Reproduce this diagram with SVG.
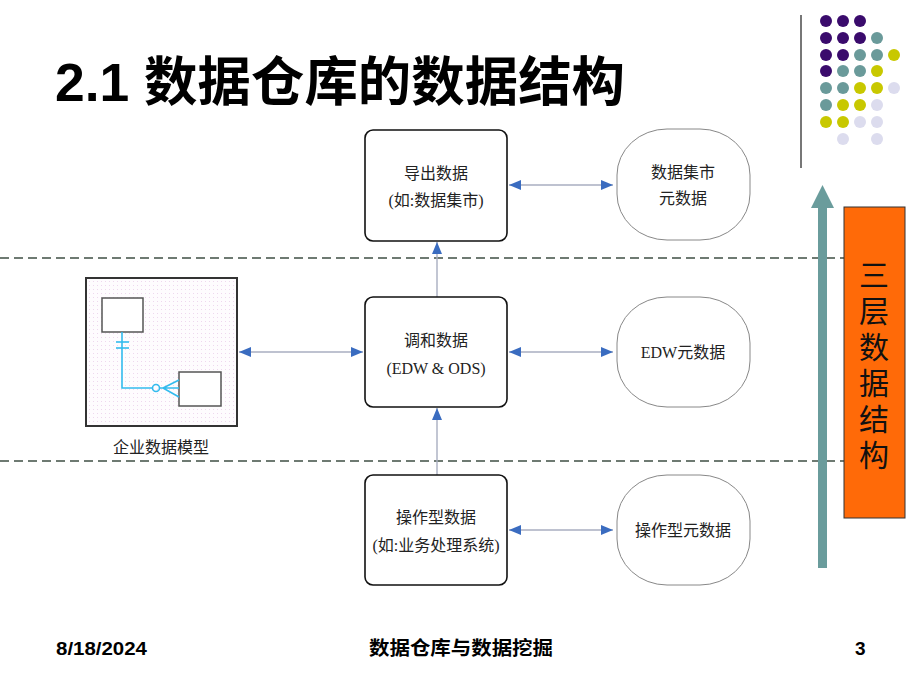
<svg xmlns="http://www.w3.org/2000/svg" width="920" height="690" viewBox="0 0 920 690">
<defs>
<style>
.title{font-family:"Liberation Sans","Noto Sans CJK SC",sans-serif;font-weight:bold;font-size:53px;fill:#000}
.foot{font-family:"Liberation Sans","Noto Sans CJK SC",sans-serif;font-weight:bold;font-size:19px;fill:#000}
.lbl{font-family:"Liberation Serif","Noto Sans CJK SC",serif;font-size:16px;fill:#222;text-anchor:middle}
.box{fill:#fff;stroke:#111;stroke-width:1.6}
.meta{fill:#fff;stroke:#888;stroke-width:1}
.conn{stroke:#a8aec0;stroke-width:1.4;fill:none}
.dash{stroke:#6e7a72;stroke-width:2;stroke-dasharray:9 5;fill:none}
.er{stroke:#33bbee;stroke-width:1.6;fill:none}
.pu{fill:#3a0b6c}.te{fill:#6a9a9a}.ye{fill:#c8c800}.la{fill:#dcdcee}
</style>
<marker id="ah" markerUnits="userSpaceOnUse" markerWidth="12" markerHeight="10" refX="12" refY="5" orient="auto-start-reverse">
<path d="M0,0 L12,5 L0,10 z" fill="#3a6cc0"/>
</marker>
<pattern id="dots" width="4" height="4" patternUnits="userSpaceOnUse">
<rect width="4" height="4" fill="#fefcfe"/>
<rect x="1" y="1" width="1" height="1" fill="#eed8ee"/>
</pattern>
</defs>
<rect width="920" height="690" fill="#fff"/>

<!-- decoration -->
<g id="decor">
<line x1="801" y1="15" x2="801" y2="168" stroke="#777" stroke-width="2"/>
<circle class="pu" cx="826" cy="21" r="6"/><circle class="pu" cx="843" cy="21" r="6"/><circle class="pu" cx="860" cy="21" r="6"/>
<circle class="pu" cx="826" cy="38" r="6"/><circle class="pu" cx="843" cy="38" r="6"/><circle class="pu" cx="860" cy="38" r="6"/><circle class="te" cx="877" cy="38" r="6"/>
<circle class="pu" cx="826" cy="55" r="6"/><circle class="pu" cx="843" cy="55" r="6"/><circle class="te" cx="860" cy="55" r="6"/><circle class="te" cx="877" cy="55" r="6"/><circle class="ye" cx="894" cy="55" r="6"/>
<circle class="pu" cx="826" cy="71" r="6"/><circle class="te" cx="843" cy="71" r="6"/><circle class="te" cx="860" cy="71" r="6"/><circle class="ye" cx="877" cy="71" r="6"/>
<circle class="te" cx="826" cy="88" r="6"/><circle class="te" cx="843" cy="88" r="6"/><circle class="ye" cx="860" cy="88" r="6"/><circle class="ye" cx="877" cy="88" r="6"/><circle class="la" cx="894" cy="88" r="6"/>
<circle class="te" cx="826" cy="105" r="6"/><circle class="ye" cx="843" cy="105" r="6"/><circle class="ye" cx="860" cy="105" r="6"/><circle class="la" cx="877" cy="105" r="6"/>
<circle class="ye" cx="826" cy="122" r="6"/><circle class="ye" cx="843" cy="122" r="6"/><circle class="la" cx="860" cy="122" r="6"/><circle class="la" cx="877" cy="122" r="6"/>
<circle class="la" cx="843" cy="139" r="6"/><circle class="la" cx="877" cy="139" r="6"/>
</g>

<text class="title" x="55" y="101" textLength="570" lengthAdjust="spacingAndGlyphs">2.1 数据仓库的数据结构</text>

<!-- layer separators -->
<g id="separators">
<line class="dash" x1="0" y1="258" x2="844" y2="258"/>
<line class="dash" x1="0" y1="461" x2="844" y2="461"/>
</g>

<!-- connectors -->
<g id="connectors">
<line class="conn" x1="509" y1="185" x2="613" y2="185" marker-start="url(#ah)" marker-end="url(#ah)"/>
<line class="conn" x1="509" y1="352" x2="613" y2="352" marker-start="url(#ah)" marker-end="url(#ah)"/>
<line class="conn" x1="509" y1="530" x2="613" y2="530" marker-start="url(#ah)" marker-end="url(#ah)"/>
<line class="conn" x1="239" y1="352" x2="363" y2="352" marker-start="url(#ah)" marker-end="url(#ah)"/>
<line class="conn" x1="437" y1="475" x2="437" y2="408" marker-end="url(#ah)"/>
<line class="conn" x1="437" y1="297" x2="437" y2="242" marker-end="url(#ah)"/>
</g>

<g id="derived">
<rect class="box" x="365" y="130" width="142" height="111" rx="8"/>
<text class="lbl" x="436" y="179">导出数据</text>
<text class="lbl" x="436" y="206">(如:数据集市)</text>
</g>
<g id="martmeta">
<rect class="meta" x="617" y="129" width="133" height="111" rx="50" ry="46"/>
<text class="lbl" x="683" y="178">数据集市</text>
<text class="lbl" x="683" y="204">元数据</text>
</g>
<g id="reconciled">
<rect class="box" x="365" y="297" width="142" height="110" rx="8"/>
<text class="lbl" x="436" y="346">调和数据</text>
<text class="lbl" x="436" y="374">(EDW &amp; ODS)</text>
</g>
<g id="edwmeta">
<rect class="meta" x="617" y="297" width="133" height="110" rx="50" ry="46"/>
<text class="lbl" x="683" y="358">EDW元数据</text>
</g>
<g id="operational">
<rect class="box" x="365" y="475" width="142" height="110" rx="8"/>
<text class="lbl" x="436" y="523">操作型数据</text>
<text class="lbl" x="436" y="551">(如:业务处理系统)</text>
</g>
<g id="opmeta">
<rect class="meta" x="617" y="475" width="133" height="110" rx="50" ry="46"/>
<text class="lbl" x="683" y="536">操作型元数据</text>
</g>

<g id="model">
<rect x="86" y="278" width="151" height="148" fill="url(#dots)" stroke="#333" stroke-width="2"/>
<rect x="102" y="298" width="41" height="34" fill="#fff" stroke="#555" stroke-width="1.5"/>
<rect x="179" y="372" width="42" height="34" fill="#fff" stroke="#555" stroke-width="1.5"/>
<path class="er" d="M122,332 V388 H152"/>
<line class="er" x1="116" y1="342" x2="129" y2="342"/>
<line class="er" x1="116" y1="348" x2="129" y2="348"/>
<circle class="er" cx="156" cy="388" r="3.5"/>
<path class="er" d="M159.5,388 H179 M163,388 L179,380 M163,388 L179,397"/>
<text class="lbl" x="161" y="453">企业数据模型</text>
</g>

<g id="levels">
<path d="M818,568 V208 H811 L822.5,185 L834,208 H827 V568 z" fill="#6a9c9c"/>
<rect x="844" y="207" width="61" height="311" fill="#ff6a08" stroke="#333" stroke-width="1"/>
<text x="874" y="260" writing-mode="tb" letter-spacing="6" font-family="'Noto Sans CJK SC',sans-serif" font-size="30" fill="#111">三层数据结构</text>
</g>

<g id="footer">
<text class="foot" x="56" y="655" textLength="91" lengthAdjust="spacingAndGlyphs">8/18/2024</text>
<text class="foot" x="461" y="655" text-anchor="middle" textLength="184" lengthAdjust="spacingAndGlyphs">数据仓库与数据挖掘</text>
<text class="foot" x="855" y="655">3</text>
</g>
</svg>
